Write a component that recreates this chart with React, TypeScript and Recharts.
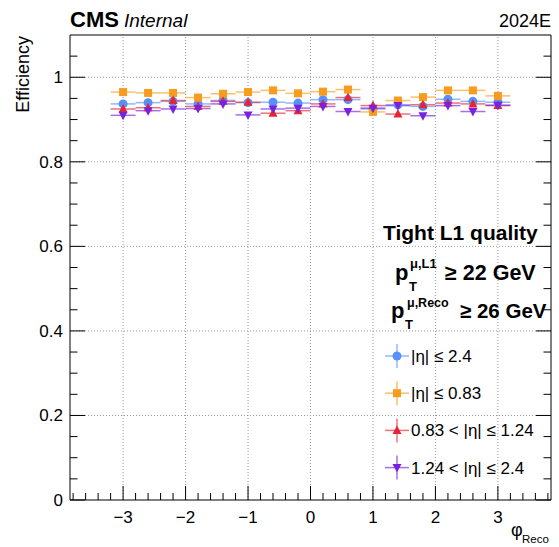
import { ComposedChart, Scatter, XAxis, YAxis, ErrorBar, ReferenceLine } from 'recharts'

const FONT = '"Liberation Sans", Arial, Helvetica, sans-serif'

// phi_Reco bin centres (bin width 0.4)
const phiCenters = [-3.0, -2.6, -2.2, -1.8, -1.4, -1.0, -0.6, -0.2, 0.2, 0.6, 1.0, 1.4, 1.8, 2.2, 2.6, 3.0]
const binHalfWidth = 0.2

// efficiencies per eta region
const effAll = [0.937, 0.94, 0.943, 0.937, 0.945, 0.94, 0.941, 0.939, 0.947, 0.947, 0.925, 0.935, 0.931, 0.948, 0.943, 0.941]
const effBarrel = [0.965, 0.963, 0.963, 0.952, 0.961, 0.965, 0.969, 0.962, 0.966, 0.971, 0.918, 0.945, 0.953, 0.969, 0.969, 0.956]
const effOverlap = [0.925, 0.928, 0.945, 0.931, 0.943, 0.941, 0.915, 0.921, 0.937, 0.952, 0.933, 0.913, 0.935, 0.939, 0.937, 0.933]
const effEndcap = [0.91, 0.921, 0.925, 0.926, 0.937, 0.911, 0.925, 0.927, 0.931, 0.919, 0.927, 0.933, 0.909, 0.933, 0.919, 0.934]

const errAll = 0.003
const errBarrel = 0.004
const errOverlap = 0.006
const errEndcap = 0.005

const xMajor = [-3, -2, -1, 0, 1, 2, 3]
const yMajor = [0.2, 0.4, 0.6, 0.8, 1]
const xTicks = Array.from({ length: 39 }, (_, i) => Math.round((-3.8 + i * 0.2) * 10) / 10)
const yTicks = Array.from({ length: 22 }, (_, i) => Math.round(i * 5) / 100)

type Marker = 'circle' | 'square' | 'triUp' | 'triDown'

const seriesList: { name: string; label: string; color: string; marker: Marker; eff: number[]; err: number }[] = [
  { name: 'all', label: '|η| ≤ 2.4', color: '#5790fc', marker: 'circle', eff: effAll, err: errAll },
  { name: 'barrel', label: '|η| ≤ 0.83', color: '#f89c20', marker: 'square', eff: effBarrel, err: errBarrel },
  { name: 'overlap', label: '0.83 < |η| ≤ 1.24', color: '#e42536', marker: 'triUp', eff: effOverlap, err: errOverlap },
  { name: 'endcap', label: '1.24 < |η| ≤ 2.4', color: '#7a21dd', marker: 'triDown', eff: effEndcap, err: errEndcap },
]

const drawMarker = (m: Marker, cx: number, cy: number, color: string) => {
  if (m === 'circle') return <circle cx={cx} cy={cy} r={4.5} fill={color} />
  if (m === 'square') return <rect x={cx - 4} y={cy - 4} width={8} height={8} fill={color} />
  if (m === 'triUp')
    return <polygon points={`${cx},${cy - 5} ${cx - 4.5},${cy + 3.5} ${cx + 4.5},${cy + 3.5}`} fill={color} />
  return <polygon points={`${cx},${cy + 5} ${cx - 4.5},${cy - 3.5} ${cx + 4.5},${cy - 3.5}`} fill={color} />
}

const isMajorX = (v: number) => Math.abs(v - Math.round(v)) < 1e-6
const isMajorY = (v: number) => Math.abs(v * 5 - Math.round(v * 5)) < 1e-6

const fmtX = (v: number) => (v < 0 ? '−' + Math.abs(v) : String(v))

const BottomTick = (props: any) => {
  const { x, y, payload } = props
  const major = isMajorX(payload.value)
  return (
    <g>
      <line x1={x} x2={x} y1={y} y2={y - (major ? 14 : 7)} stroke="#000" />
      {major && (
        <text x={x} y={y + 23} textAnchor="middle" fontSize={17} fontFamily={FONT} fill="#000">
          {fmtX(payload.value)}
        </text>
      )}
    </g>
  )
}

const TopTick = (props: any) => {
  const { x, y, payload } = props
  const major = isMajorX(payload.value)
  return <line x1={x} x2={x} y1={y} y2={y + (major ? 14 : 7)} stroke="#000" />
}

const LeftTick = (props: any) => {
  const { x, y, payload } = props
  const major = isMajorY(payload.value)
  return (
    <g>
      <line x1={x} x2={x + (major ? 15 : 7.5)} y1={y} y2={y} stroke="#000" />
      {major && (
        <text x={x - 7} y={y + 6} textAnchor="end" fontSize={17} fontFamily={FONT} fill="#000">
          {String(payload.value)}
        </text>
      )}
    </g>
  )
}

const RightTick = (props: any) => {
  const { x, y, payload } = props
  const major = isMajorY(payload.value)
  return <line x1={x} x2={x - (major ? 15 : 7.5)} y1={y} y2={y} stroke="#000" />
}

const legendY0 = 356
const legendStep = 37.2

export default function App() {
  const datasets = seriesList.map(s => ({
    ...s,
    data: phiCenters.map((x, i) => ({ x, y: s.eff[i], ex: binHalfWidth, ey: s.err })),
  }))

  return (
    <div style={{ position: 'absolute', left: 0, top: 0, width: 559, height: 547, background: '#fff', fontFamily: FONT }}>
      <ComposedChart width={559} height={547} margin={{ top: 34, right: 7, bottom: 46, left: 69 }}>
        <XAxis
          xAxisId="b"
          type="number"
          dataKey="x"
          orientation="bottom"
          domain={[-3.85, 3.85]}
          allowDataOverflow
          ticks={xTicks}
          interval={0}
          height={1}
          tickSize={0}
          tickMargin={0}
          tickLine={false}
          tick={<BottomTick />}
          axisLine={{ stroke: '#000' }}
        />
        <XAxis
          xAxisId="t"
          type="number"
          orientation="top"
          domain={[-3.85, 3.85]}
          allowDataOverflow
          ticks={xTicks}
          interval={0}
          height={1}
          tickSize={0}
          tickMargin={0}
          tickLine={false}
          tick={<TopTick />}
          axisLine={{ stroke: '#000' }}
        />
        <YAxis
          yAxisId="l"
          type="number"
          orientation="left"
          domain={[0, 1.1]}
          allowDataOverflow
          ticks={yTicks}
          interval={0}
          width={1}
          tickSize={0}
          tickMargin={0}
          tickLine={false}
          tick={<LeftTick />}
          axisLine={{ stroke: '#000' }}
        />
        <YAxis
          yAxisId="r"
          type="number"
          orientation="right"
          domain={[0, 1.1]}
          allowDataOverflow
          ticks={yTicks}
          interval={0}
          width={1}
          tickSize={0}
          tickMargin={0}
          tickLine={false}
          tick={<RightTick />}
          axisLine={{ stroke: '#000' }}
        />
        {xMajor.map(v => (
          <ReferenceLine key={'gx' + v} xAxisId="b" yAxisId="l" x={v} stroke="#999" strokeDasharray="1 2" />
        ))}
        {yMajor.map(v => (
          <ReferenceLine key={'gy' + v} xAxisId="b" yAxisId="l" y={v} stroke="#999" strokeDasharray="1 2" />
        ))}
        {datasets.map(s => (
          <Scatter
            key={s.name}
            name={s.label}
            xAxisId="b"
            yAxisId="l"
            data={s.data}
            dataKey="y"
            isAnimationActive={false}
            shape={(p: any) => drawMarker(s.marker, p.cx, p.cy, s.color)}
          >
            <ErrorBar dataKey="ex" direction="x" width={0} stroke={s.color} strokeWidth={1.5} strokeOpacity={0.65} isAnimationActive={false} />
            <ErrorBar dataKey="ey" direction="y" width={0} stroke={s.color} strokeWidth={1.5} strokeOpacity={0.65} isAnimationActive={false} />
          </Scatter>
        ))}
      </ComposedChart>

      <svg width={559} height={547} style={{ position: 'absolute', left: 0, top: 0, pointerEvents: 'none' }}>
        <text x={70} y={27} fontSize={22} fontWeight="bold" fontFamily={FONT}>CMS</text>
        <text x={124} y={27} fontSize={19} fontStyle="italic" fontFamily={FONT}>Internal</text>
        <text x={551} y={27} fontSize={18} textAnchor="end" fontFamily={FONT}>2024E</text>
        <text transform="translate(29,36) rotate(-90)" fontSize={18} textAnchor="end" fontFamily={FONT}>Efficiency</text>
        <text x={511} y={536} fontSize={18} fontFamily={FONT}>φ</text>
        <text x={522} y={543} fontSize={11.5} fontFamily={FONT}>Reco</text>

        <text x={383} y={240} fontSize={21} fontWeight="bold" fontFamily={FONT}>Tight L1 quality</text>
        <text x={395} y={280} fontSize={22} fontWeight="bold" fontFamily={FONT}>p</text>
        <text x={410} y={268} fontSize={13} fontWeight="bold" fontFamily={FONT}>μ,L1</text>
        <text x={409} y={291} fontSize={13} fontWeight="bold" fontFamily={FONT}>T</text>
        <text x={445} y={280} fontSize={21.5} fontWeight="bold" fontFamily={FONT}>≥ 22 GeV</text>
        <text x={391} y={318} fontSize={22} fontWeight="bold" fontFamily={FONT}>p</text>
        <text x={407} y={307} fontSize={12.5} fontWeight="bold" fontFamily={FONT}>μ,Reco</text>
        <text x={405} y={329} fontSize={13} fontWeight="bold" fontFamily={FONT}>T</text>
        <text x={460} y={318} fontSize={20.5} fontWeight="bold" fontFamily={FONT}>≥ 26 GeV</text>

        {seriesList.map((s, i) => {
          const cy = legendY0 + i * legendStep
          return (
            <g key={s.name}>
              <line x1={385} x2={409} y1={cy} y2={cy} stroke={s.color} strokeWidth={1.5} strokeOpacity={0.65} />
              <line x1={397} x2={397} y1={cy - 12} y2={cy + 12} stroke={s.color} strokeWidth={1.5} strokeOpacity={0.65} />
              {drawMarker(s.marker, 397, cy, s.color)}
              <text x={411} y={cy + 6} fontSize={17} fontFamily={FONT}>{s.label}</text>
            </g>
          )
        })}
      </svg>
    </div>
  )
}
